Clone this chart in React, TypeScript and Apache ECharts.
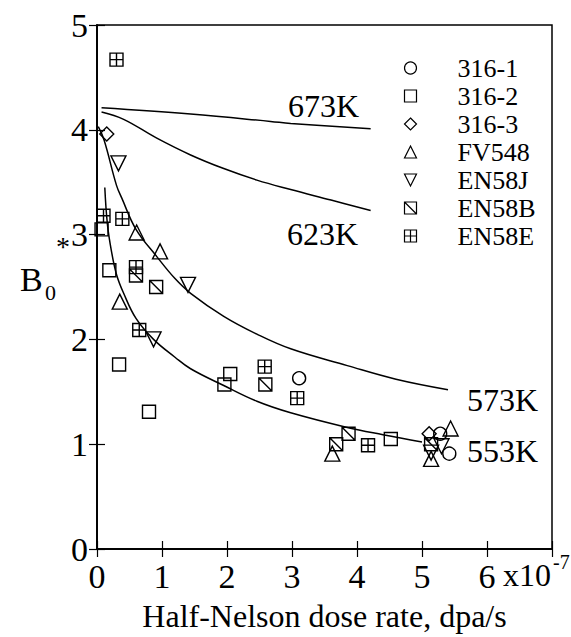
import React, { useEffect, useRef } from "react";
import * as echarts from "echarts";

const FONT = "'Liberation Serif', 'Times New Roman', serif";

// Tick labels
const xTickLabels = ["0", "1", "2", "3", "4", "5", "6", ""];
const yTickLabels = ["0", "1", "2", "3", "4", "5"];

// Scatter data: [dose rate (x1e-7 dpa/s), B0*]
const s316_1 = [[3.11, 1.63], [5.28, 1.1], [5.42, 0.91]];
const s316_2 = [[0.07, 3.05], [0.19, 2.66], [0.34, 1.76], [0.8, 1.31], [1.96, 1.57], [2.05, 1.67], [4.52, 1.05]];
const s316_3 = [[0.15, 3.96], [5.11, 1.1]];
const sFV548 = [[0.35, 2.36], [0.61, 3.02], [0.97, 2.84], [3.62, 0.91], [5.14, 0.86], [5.44, 1.15]];
const sEN58J = [[0.33, 3.68], [0.87, 2.0], [1.4, 2.52], [5.14, 0.92], [5.3, 0.98]];
const sEN58B = [[0.6, 2.61], [0.91, 2.5], [2.59, 1.57], [3.68, 1.0], [3.87, 1.1], [5.14, 1.0]];
const sEN58E = [[0.3, 4.67], [0.1, 3.18], [0.39, 3.15], [0.6, 2.69], [0.65, 2.09], [2.58, 1.74], [3.08, 1.44], [4.17, 0.99]];

// Model curves
const c673 = [[0.07, 4.21], [1.44, 4.15], [2.67, 4.08], [2.98, 4.06], [4.21, 4.01]];
const c623 = [[0.07, 4.17], [0.41, 4.1], [0.92, 3.92], [1.44, 3.76], [1.95, 3.63], [2.46, 3.52], [2.98, 3.43], [3.6, 3.33], [4.21, 3.23]];
const c573 = [[0.02, 4.03], [0.11, 3.9], [0.3, 3.47], [0.38, 3.35], [0.6, 3.05], [0.92, 2.79], [1.2, 2.58], [1.44, 2.44], [1.95, 2.22], [2.46, 2.05], [2.98, 1.91], [3.85, 1.75], [4.6, 1.62], [5.4, 1.52]];
const c553 = [[0.12, 3.45], [0.16, 3.1], [0.22, 2.85], [0.3, 2.62], [0.41, 2.44], [0.6, 2.2], [0.87, 2.0], [1.2, 1.83], [1.44, 1.72], [1.95, 1.56], [2.46, 1.41], [2.98, 1.3], [3.85, 1.16], [4.4, 1.09], [5.0, 1.02]];

const seriesNames = ["316-1", "316-2", "316-3", "FV548", "EN58J", "EN58B", "EN58E"];
const seriesData = [s316_1, s316_2, s316_3, sFV548, sEN58J, sEN58B, sEN58E];
const seriesSymbols = [
  "circle",
  "rect",
  "diamond",
  "triangle",
  "path://M0,0 L10,0 L5,10 Z",
  "path://M0,0 L10,0 L10,10 L0,10 Z M0,0 L10,10",
  "path://M0,0 L10,0 L10,10 L0,10 Z M5,0 L5,10 M0,5 L10,5",
];
const seriesSizes = [13, 13, 14, 15, 15, 13, 13];

const curveNames = ["673K", "623K", "573K", "553K"];
const curveData = [c673, c623, c573, c553];

export default function App() {
  const ref = useRef<HTMLDivElement>(null);
  useEffect(() => {
    if (!ref.current) return;
    const chart = echarts.init(ref.current, null, { renderer: "svg" });
    const axisCommon = {
      type: "value" as const,
      axisLine: { show: true, lineStyle: { color: "#000", width: 1.5 } },
      axisTick: { show: true, inside: true, length: 8, lineStyle: { color: "#000", width: 1.2 } },
      splitLine: { show: false },
    };
    const scatter = seriesNames.map((name, i) => ({
      name,
      type: "scatter",
      data: seriesData[i],
      symbol: seriesSymbols[i],
      symbolSize: seriesSizes[i],
      itemStyle: { color: "none", borderColor: "#000", borderWidth: 1.4, opacity: 1 },
      z: 3,
    }));
    const lines = curveNames.map((name, i) => ({
      name,
      type: "line",
      data: curveData[i],
      smooth: 0.4,
      showSymbol: false,
      symbol: "none",
      lineStyle: { color: "#000", width: 1.5 },
      z: 2,
    }));
    const txt = (text: string, x: number, y: number, size: number, extra: any = {}) => ({
      type: "text",
      x,
      y,
      style: { text, font: `${size}px ${FONT}`, fill: "#000", ...extra },
    });
    chart.setOption({
      animation: false,
      backgroundColor: "#fff",
      grid: { left: 97, top: 25, right: 19, bottom: 81, show: true, borderColor: "#000", borderWidth: 1.5 },
      xAxis: [
        {
          ...axisCommon,
          min: 0,
          max: 7,
          interval: 1,
          position: "bottom",
          axisLabel: {
            fontSize: 34,
            fontFamily: FONT,
            color: "#000",
            margin: 10,
            formatter: (v: number) => xTickLabels[Math.round(v)] ?? "",
          },
          name: "Half-Nelson dose rate, dpa/s",
          nameLocation: "middle",
          nameGap: 51,
          nameTextStyle: { fontSize: 32, fontFamily: FONT, color: "#000" },
        },
        {
          ...axisCommon,
          min: 0,
          max: 7,
          interval: 1,
          position: "top",
          axisLabel: { show: false },
        },
      ],
      yAxis: [
        {
          ...axisCommon,
          min: 0,
          max: 5,
          interval: 1,
          position: "left",
          axisLabel: {
            fontSize: 34,
            fontFamily: FONT,
            color: "#000",
            margin: 9,
            formatter: (v: number) => yTickLabels[Math.round(v)] ?? "",
          },
        },
        {
          ...axisCommon,
          min: 0,
          max: 5,
          interval: 1,
          position: "right",
          axisLabel: { show: false },
        },
      ],
      legend: {
        data: seriesNames,
        orient: "vertical",
        left: 402,
        top: 54,
        padding: 0,
        itemWidth: 12,
        itemHeight: 12,
        itemGap: 0,
        textStyle: { fontSize: 26, fontFamily: FONT, color: "#000", lineHeight: 28, padding: [0, 0, 0, 36] },
        itemStyle: { color: "none", borderColor: "#000", borderWidth: 1.2 },
      },
      graphic: [
        txt("x10", 503, 559, 32, { verticalAlign: "top" }),
        txt("-7", 553, 552, 20, { verticalAlign: "top" }),
        txt("B", 20, 262, 34),
        txt("0", 45, 281, 22),
        txt("*", 56, 232, 28),
        txt("673K", 288, 90, 32),
        txt("623K", 287, 218, 32),
        txt("573K", 467, 384, 32),
        txt("553K", 467, 435, 32),
      ],
      series: [...lines, ...scatter],
    });
    return () => chart.dispose();
  }, []);
  return <div ref={ref} style={{ position: "absolute", left: 0, top: 0, width: 571, height: 637 }} />;
}
